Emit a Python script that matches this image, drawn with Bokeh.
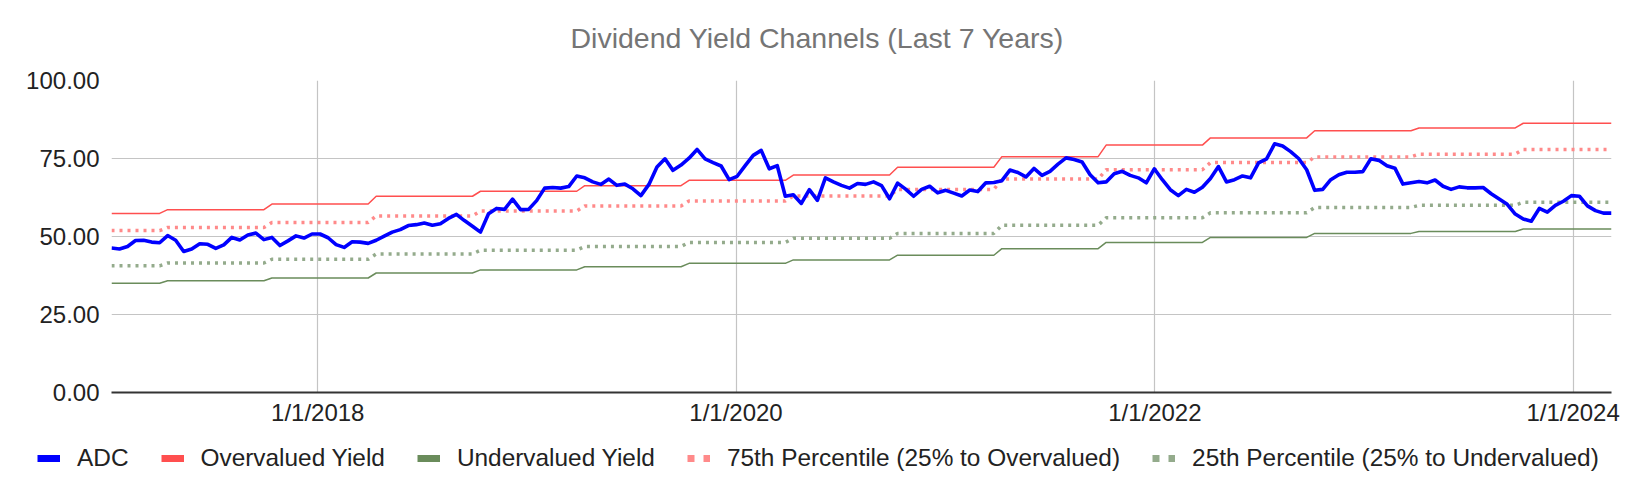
import numpy as np
import pandas as pd
from bokeh.plotting import figure
from bokeh.models import Range1d, FixedTicker, NumeralTickFormatter, Legend, LegendItem
from bokeh.embed import file_html
from bokeh.resources import INLINE

# ---------------- data ----------------
title_text = "Dividend Yield Channels (Last 7 Years)"
start_date = "2017-01-06"   # biweekly observations

adc_yield = [
    46.3, 46.0, 46.8, 48.7, 48.8, 48.2, 48.0, 50.3, 48.8, 45.2,
    46.0, 47.7, 47.5, 46.2, 47.3, 49.7, 48.9, 50.5, 51.1, 49.0,
    49.7, 47.1, 48.6, 50.2, 49.5, 50.8, 50.8, 49.6, 47.4, 46.5,
    48.3, 48.2, 47.8, 48.8, 50.1, 51.4, 52.2, 53.5, 53.8, 54.3,
    53.6, 54.1, 55.8, 57.1, 55.1, 53.3, 51.4, 57.3, 59.0, 58.7,
    62.0, 58.6, 58.7, 61.5, 65.5, 65.7, 65.5,
    66.0, 69.4, 68.8, 67.5, 66.7, 68.4, 66.4, 66.8, 65.3, 63.1,
    66.7, 72.3, 74.9, 71.2, 72.9, 75.1, 77.9, 74.9, 73.7, 72.6,
    68.2, 69.3, 72.7, 76.0, 77.6, 71.7, 72.7, 62.9, 63.4, 60.6,
    65.0, 61.6, 68.8, 67.5, 66.4, 65.5, 67.0, 66.7, 67.5, 66.3,
    62.1, 67.1, 65.2, 62.9, 65.1, 66.1, 64.0, 64.8, 63.9, 63.0,
    64.9, 64.4, 67.2, 67.3, 67.9, 71.3, 70.5, 69.1, 71.8, 69.6,
    70.9, 73.2, 75.2, 74.7, 73.9, 69.8, 67.2,
    67.5, 70.1, 70.9, 69.6, 68.8, 67.2, 71.7, 68.2, 65.0, 63.1,
    65.1, 64.2, 65.8, 68.6, 72.4, 67.5, 68.2, 69.4, 68.8, 73.6,
    74.9, 79.7, 79.0, 77.2, 75.0, 71.4, 64.8, 65.1, 68.2, 69.8,
    70.6, 70.6, 70.8, 74.9, 74.4, 72.7, 71.9, 66.8, 67.2, 67.6,
    67.2, 68.1, 66.1, 65.1, 65.9, 65.6, 65.6, 65.7, 63.7, 62.0,
    60.3, 57.2, 55.6, 54.9, 59.0, 57.8, 60.0, 61.3, 63.1, 62.9,
    59.8, 58.3, 57.5, 57.5,
]

# channel levels change every half year
period_starts = [
    "2017-04-14", "2017-10-13", "2018-04-13", "2018-10-12", "2019-04-12",
    "2019-10-11", "2020-04-10", "2020-10-09", "2021-04-09", "2021-10-08",
    "2022-04-08", "2022-10-07", "2023-04-07", "2023-10-06",
]
overvalued_levels = [57.4, 58.6, 60.4, 62.9, 64.5, 66.3, 68.0, 69.7, 72.2, 75.6, 79.3, 81.6, 83.9, 84.8, 86.3]
undervalued_levels = [35.0, 35.8, 36.7, 38.3, 39.3, 40.3, 41.4, 42.5, 44.0, 46.1, 48.1, 49.7, 51.0, 51.6, 52.4]
p75_levels = [51.9, 52.9, 54.5, 56.6, 58.2, 59.8, 61.4, 63.0, 65.1, 68.4, 71.4, 73.7, 75.5, 76.4, 77.9]
p25_levels = [40.6, 41.5, 42.7, 44.4, 45.6, 46.8, 48.1, 49.4, 51.0, 53.6, 56.0, 57.6, 59.3, 60.0, 61.0]

y_ticks = [0, 25, 50, 75, 100]
x_tick_dates = ["2018-01-01", "2020-01-01", "2022-01-01", "2024-01-01"]
x_tick_labels = ["1/1/2018", "1/1/2020", "1/1/2022", "1/1/2024"]

series_names = ["ADC", "Overvalued Yield", "Undervalued Yield",
                "75th Percentile (25% to Overvalued)", "25th Percentile (25% to Undervalued)"]
series_colors = ["#0000ff", "#ff4f4f", "#6a8c5b", "#ff8a8a", "#94ab8c"]

# ---------------- build ----------------
dates = pd.date_range(start_date, periods=len(adc_yield), freq="14D")
seg = np.searchsorted(pd.to_datetime(period_starts).values, dates.values, side="right")
over = np.array(overvalued_levels)[seg]
under = np.array(undervalued_levels)[seg]
p75 = np.array(p75_levels)[seg]
p25 = np.array(p25_levels)[seg]

FONT = "Liberation Sans"
W = 1620
TITLE_H = 60
MAIN_H = 370
LEG_H = 48

# ---------------- title strip (own root) ----------------
tt = figure(width=W, height=TITLE_H, output_backend="svg", toolbar_location=None,
            x_range=Range1d(0, 1), y_range=Range1d(0, 1),
            min_border_left=0, min_border_right=0, min_border_top=53, min_border_bottom=0,
            x_axis_location=None, y_axis_location=None)
tt.grid.visible = False
tt.outline_line_color = None
tt.title.text = title_text
tt.title.align = "left"
tt.title.offset = 570
tt.title.standoff = 0
tt.title.text_font = FONT
tt.title.text_font_size = "28.5px"
tt.title.text_font_style = "normal"
tt.title.text_color = "#757575"

# ---------------- main chart ----------------
p = figure(width=W, height=MAIN_H, x_axis_type="datetime", output_backend="svg",
           toolbar_location=None,
           x_range=Range1d(dates[0], dates[-1]), y_range=Range1d(0, 100),
           min_border_left=111, min_border_right=9, min_border_top=20, min_border_bottom=38)

p.outline_line_color = None
p.background_fill_color = "white"

p.yaxis.ticker = FixedTicker(ticks=y_ticks)
p.yaxis.formatter = NumeralTickFormatter(format="0.00")
p.yaxis.axis_line_color = None
p.yaxis.major_tick_out = 0
p.yaxis.major_tick_in = 0
p.yaxis.minor_tick_out = 0
p.yaxis.minor_tick_in = 0
p.yaxis.major_label_standoff = 12
p.yaxis.major_label_text_font = FONT
p.yaxis.major_label_text_font_size = "24px"
p.yaxis.major_label_text_color = "#222222"

x_tick_ms = [float(pd.Timestamp(d).value // 10**6) for d in x_tick_dates]
p.xaxis.ticker = FixedTicker(ticks=x_tick_ms)
p.xaxis.major_label_overrides = {t: lab for t, lab in zip(x_tick_ms, x_tick_labels)}
p.xaxis.axis_line_color = "#333333"
p.xaxis.axis_line_width = 2
p.xaxis.major_tick_out = 0
p.xaxis.major_tick_in = 0
p.xaxis.minor_tick_out = 0
p.xaxis.minor_tick_in = 0
p.xaxis.major_label_standoff = 6
p.xaxis.major_label_text_font = FONT
p.xaxis.major_label_text_font_size = "24px"
p.xaxis.major_label_text_color = "#222222"

p.xgrid.grid_line_color = "#c4c4c4"
p.ygrid.grid_line_color = "#c4c4c4"
p.xgrid.grid_line_width = 1.2
p.ygrid.grid_line_width = 1.2

p.line(dates, over, line_color=series_colors[1], line_width=1.5)
p.line(dates, under, line_color=series_colors[2], line_width=1.5)
p.line(dates, p75, line_color=series_colors[3], line_width=3.5, line_dash="3 5")
p.line(dates, p25, line_color=series_colors[4], line_width=3.5, line_dash="3 5")
p.line(dates, adc_yield, line_color=series_colors[0], line_width=3.6, line_join="round")

# ---------------- legend strip (own root) ----------------
lg = figure(width=W, height=LEG_H, output_backend="svg", toolbar_location=None,
            x_range=Range1d(0, 1), y_range=Range1d(0, 1),
            min_border_left=0, min_border_right=0, min_border_top=0, min_border_bottom=0,
            x_axis_location=None, y_axis_location=None)
lg.grid.visible = False
lg.outline_line_color = None

# off-screen proxy glyphs, used only for the legend swatches
dashes = ["solid", "solid", "solid", "7 9", "7 9"]
items = []
for name, col, dsh in zip(series_names, series_colors, dashes):
    r = lg.line(x=[-3, -2], y=[-3, -2], line_color=col, line_width=7, line_dash=dsh)
    items.append(LegendItem(label=name, renderers=[r]))

legend = Legend(items=items, orientation="horizontal", location=(37, 6),
                glyph_width=23, glyph_height=20, label_standoff=17, spacing=32,
                padding=2, margin=0, border_line_color=None, background_fill_alpha=0,
                label_text_font=FONT, label_text_font_size="24.4px", label_text_color="#222222")
lg.add_layout(legend, "center")

open("out.html", "w").write(file_html([tt, p, lg], INLINE))
